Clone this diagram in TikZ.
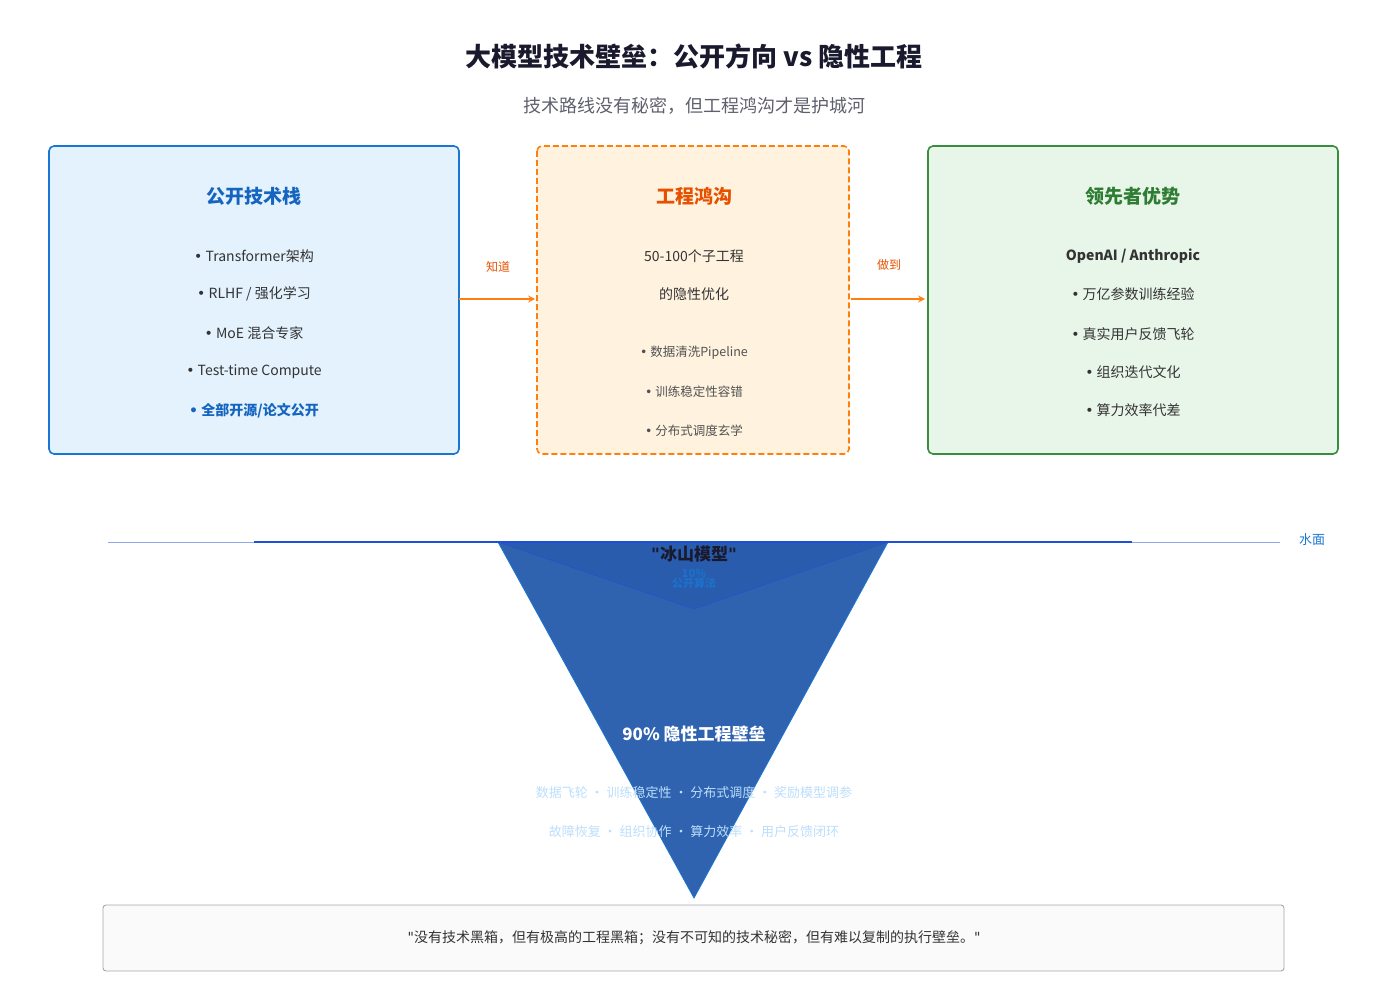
\documentclass[tikz,border=0pt]{standalone}
\usepackage{fontspec}
\setmainfont{Noto Sans CJK SC}
\newfontfamily\latinfont{DejaVu Sans}
\newcommand{\qt}{{\latinfont\symbol{34}}}
\newcommand{\bu}{{\latinfont •}}
\usetikzlibrary{positioning}
\definecolor{bluedeep}{HTML}{1976D2}
\definecolor{bluefill}{HTML}{E3F2FD}
\definecolor{bluetext}{HTML}{1565C0}
\definecolor{orangeline}{HTML}{FF7F0E}
\definecolor{orangefill}{HTML}{FFF3E0}
\definecolor{orangetext}{HTML}{E65100}
\definecolor{greenline}{HTML}{388E3C}
\definecolor{greenfill}{HTML}{E8F5E9}
\definecolor{greentext}{HTML}{2E7D32}
\definecolor{icebody}{HTML}{3063AF}
\definecolor{icetop}{HTML}{2A5CAE}
\definecolor{water}{HTML}{1E4FD8}
\definecolor{darktext}{HTML}{1A1A2E}
\definecolor{bodytext}{HTML}{333333}
\definecolor{paletext}{HTML}{BBDEFB}
\tikzset{
  panel/.style={rounded corners=5pt, line width=1.6pt},
  item/.style={font=\fontsize{14}{16}\selectfont, text=bodytext},
  smallitem/.style={font=\fontsize{12.5}{14}\selectfont, text=bodytext!85},
  head/.style={font=\bfseries\fontsize{19}{22}\selectfont},
  flow/.style={->, line width=2pt, orangeline, >=stealth},
}
\begin{document}
\begin{tikzpicture}[x=1pt, y=-1pt]
\useasboundingbox (0,0) rectangle (1387,987);

%%%%%%%%%%%%%%%%%%%%%%%%%%%%%%%%%%%%%%%%%% Titles
\node[font=\bfseries\fontsize{26}{30}\selectfont, text=darktext] (title) at (694,56) {大模型技术壁垒：公开方向 vs 隐性工程};
\node[font=\fontsize{18}{22}\selectfont, text=darktext!70] (subtitle) at (694,106) {技术路线没有秘密，但工程鸿沟才是护城河};

%%%%%%%%%%%%%%%%%%%%%%%%%%%%%%%%%%%%%%%%%% Panels
\draw[panel, draw=bluedeep, fill=bluefill] (49,146) rectangle (459,454);
\coordinate (open) at (459,299);
\node[head, text=bluetext] (openhead) at (254,196) {公开技术栈};
\node[item] (o1) at (254,256) {\bu{} Transformer架构};
\node[item] (o2) at (254,294) {\bu{} RLHF / 强化学习};
\node[item] (o3) at (254,333) {\bu{} MoE 混合专家};
\node[item] (o4) at (254,372) {\bu{} Test-time Compute};
\node[item, text=bluetext, font=\bfseries\fontsize{14}{16}\selectfont] (o5) at (254,411) {\bu{} 全部开源/论文公开};

\draw[panel, draw=orangeline, fill=orangefill, dashed, dash pattern=on 6pt off 3pt] (537,146) rectangle (849,454);
\coordinate (gapin) at (535,299);
\coordinate (gapout) at (851,299);
\node[head, text=orangetext] (gaphead) at (694,196) {工程鸿沟};
\node[item] (g1) at (694,256) {50-100个子工程};
\node[item] (g2) at (694,294) {的隐性优化};
\node[smallitem] (g3) at (694,353) {\bu{} 数据清洗Pipeline};
\node[smallitem] (g4) at (694,392) {\bu{} 训练稳定性容错};
\node[smallitem] (g5) at (694,431) {\bu{} 分布式调度玄学};

\draw[panel, draw=greenline, fill=greenfill] (928,146) rectangle (1338,454);
\coordinate (lead) at (925,299);
\node[head, text=greentext] (leadhead) at (1133,196) {领先者优势};
\node[item, font=\bfseries\fontsize{14}{16}\selectfont] (l1) at (1133,256) {OpenAI / Anthropic};
\node[item] (l2) at (1133,294) {\bu{} 万亿参数训练经验};
\node[item] (l3) at (1133,334) {\bu{} 真实用户反馈飞轮};
\node[item] (l4) at (1133,372) {\bu{} 组织迭代文化};
\node[item] (l5) at (1133,410) {\bu{} 算力效率代差};

%%%%%%%%%%%%%%%%%%%%%%%%%%%%%%%%%%%%%%%%%% Arrows
\draw[flow] (open) -- (gapin);
\node[font=\fontsize{12}{14}\selectfont, text=orangetext] (know) at (498,267) {知道};
\draw[flow] (gapout) -- (lead);
\node[font=\fontsize{12}{14}\selectfont, text=orangetext] (do) at (889,265) {做到};

%%%%%%%%%%%%%%%%%%%%%%%%%%%%%%%%%%%%%%%%%% Iceberg
\fill[icebody] (498,542) -- (888,542) -- (694,898) -- cycle;
\draw[bluedeep, line width=0.8pt] (888,542) -- (694,898) -- (498,542);
\fill[icetop] (498,542) -- (888,542) -- (694,609) -- cycle;
\draw[water!70!icetop, line width=0.6pt] (498,542) -- (694,609) -- (888,542);
\draw[water!50, line width=0.8pt] (108,542) -- (1280,542);
\draw[water, line width=1.5pt] (254,542) -- (1132,542);
\node[font=\fontsize{13}{15}\selectfont, text=bluedeep] (surface) at (1312,540) {水面};
\node[font=\bfseries\fontsize{17}{20}\selectfont, text=darktext] (iceberg) at (694,554) {\qt{}冰山模型\qt{}};
\node[font=\bfseries\fontsize{11}{12}\selectfont, text=bluedeep!80!icetop, align=center, below=0pt of iceberg] (tip) {10\%\\[-2pt]公开算法};
\node[font=\bfseries\fontsize{17}{20}\selectfont, text=white] (base) at (694,734) {90\% 隐性工程壁垒};
\node[font=\fontsize{13}{15}\selectfont, text=paletext] (b1) at (694,793) {数据飞轮 · 训练稳定性 · 分布式调度 · 奖励模型调参};
\node[font=\fontsize{13}{15}\selectfont, text=paletext] (b2) at (694,832) {故障恢复 · 组织协作 · 算力效率 · 用户反馈闭环};

%%%%%%%%%%%%%%%%%%%%%%%%%%%%%%%%%%%%%%%%%% Quote
\draw[rounded corners=3pt, draw=gray!70, fill=gray!4, line width=0.9pt] (103,905) rectangle (1284,971);
\node[font=\fontsize{14}{16}\selectfont, text=bodytext] (quote) at (694,938) {\qt{}没有技术黑箱，但有极高的工程黑箱；没有不可知的技术秘密，但有难以复制的执行壁垒。\qt{}};
\end{tikzpicture}
\end{document}
